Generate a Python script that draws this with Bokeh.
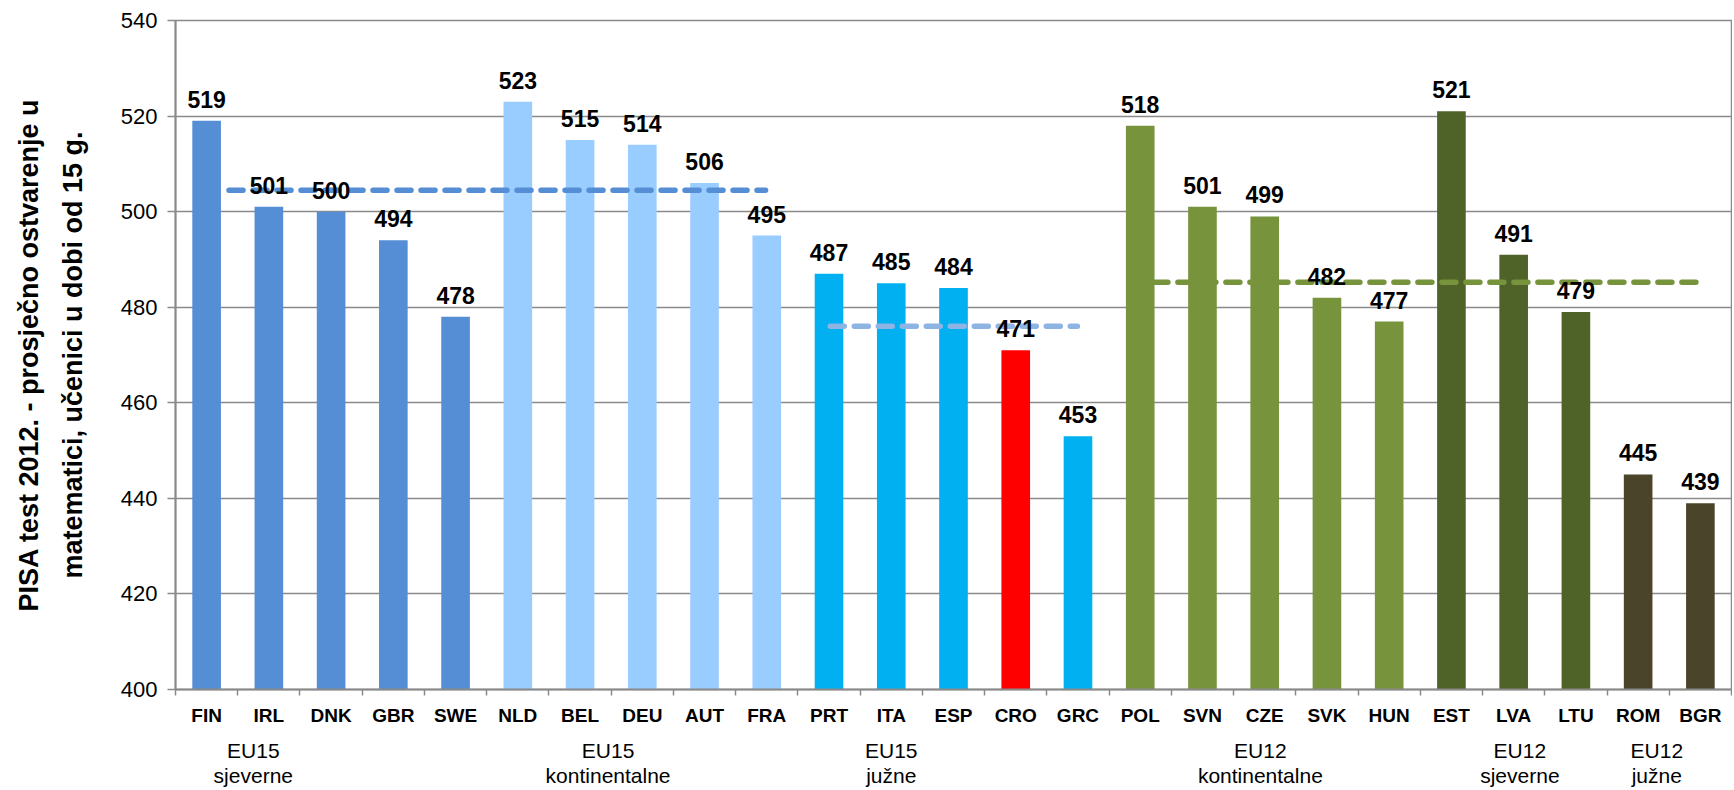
from bokeh.plotting import figure
from bokeh.models import Range1d, FixedTicker, ColumnDataSource, LinearAxis
from bokeh.core.properties import value
from bokeh.embed import file_html
from bokeh.resources import INLINE
import numpy as np

# ---- data ----
countries = ["FIN", "IRL", "DNK", "GBR", "SWE", "NLD", "BEL", "DEU", "AUT", "FRA",
             "PRT", "ITA", "ESP", "CRO", "GRC", "POL", "SVN", "CZE", "SVK", "HUN",
             "EST", "LVA", "LTU", "ROM", "BGR"]
scores = [519, 501, 500, 494, 478, 523, 515, 514, 506, 495,
          487, 485, 484, 471, 453, 518, 501, 499, 482, 477,
          521, 491, 479, 445, 439]
bar_colors = (["#558ED5"] * 5 + ["#99CCFF"] * 5 +
              ["#00B0F0"] * 3 + ["#FF0000"] + ["#00B0F0"] +
              ["#77933C"] * 5 + ["#4F6228"] * 3 + ["#4A452A"] * 2)
group_labels = ["EU15\nsjeverne", "EU15\nkontinentalne", "EU15\njužne",
                "EU12\nkontinentalne", "EU12\nsjeverne", "EU12\njužne"]
group_label_x = [1.25, 6.95, 11.5, 17.43, 21.6, 23.8]
avg_values = [504.5, 476.0, 485.2]
avg_x0 = [0.86, 10.52, 15.72]
avg_x1 = [9.48, 14.49, 24.53]
avg_colors = ["#558ED5", "#8EB4E3", "#77933C"]
y_ticks = [400, 420, 440, 460, 480, 500, 520, 540]
y_title = "PISA test 2012. - prosječno ostvarenje u\nmatematici, učenici u dobi od 15 g."

FONT = "Liberation Sans"
GRAY = "#8A8A8A"

n = len(countries)
centers = (np.arange(n) + 0.5).tolist()
boundaries = list(range(n + 1))

p = figure(width=1732, height=789, output_backend="svg", toolbar_location=None,
           x_range=Range1d(0, n), y_range=Range1d(400, 540),
           min_border_left=175, min_border_right=1, min_border_top=20,
           min_border_bottom=95)
p.background_fill_color = "white"
p.border_fill_color = "white"
p.outline_line_color = GRAY
p.outline_line_width = 1.5

# grid
p.xgrid.visible = False
p.ygrid.ticker = FixedTicker(ticks=y_ticks)
p.ygrid.grid_line_color = GRAY
p.ygrid.grid_line_width = 1.5

# y axis
p.yaxis.ticker = FixedTicker(ticks=y_ticks)
p.yaxis.axis_line_color = GRAY
p.yaxis.axis_line_width = 2
p.yaxis.major_tick_line_color = GRAY
p.yaxis.major_tick_line_width = 1.5
p.yaxis.major_tick_out = 8
p.yaxis.major_tick_in = 0
p.yaxis.minor_tick_line_color = None
p.yaxis.major_label_text_font = FONT
p.yaxis.major_label_text_font_size = "22px"
p.yaxis.major_label_text_color = "black"
p.yaxis.major_label_standoff = 10
p.yaxis.axis_label = y_title
p.yaxis.axis_label_text_font = FONT
p.yaxis.axis_label_text_font_size = "27px"
p.yaxis.axis_label_text_font_style = "bold"
p.yaxis.axis_label_text_color = "black"
p.yaxis.axis_label_text_line_height = 1.45
p.yaxis.axis_label_standoff = 30

# x axis (country codes)
p.xaxis.ticker = FixedTicker(ticks=centers, minor_ticks=boundaries)
p.xaxis.major_label_overrides = {c: name for c, name in zip(centers, countries)}
p.xaxis.axis_line_color = GRAY
p.xaxis.axis_line_width = 2
p.xaxis.major_tick_line_color = None
p.xaxis.major_tick_out = 0
p.xaxis.major_tick_in = 0
p.xaxis.minor_tick_line_color = GRAY
p.xaxis.minor_tick_line_width = 1.5
p.xaxis.minor_tick_out = 6
p.xaxis.minor_tick_in = 0
p.xaxis.major_label_text_font = FONT
p.xaxis.major_label_text_font_size = "19px"
p.xaxis.major_label_text_font_style = "bold"
p.xaxis.major_label_text_color = "black"
p.xaxis.major_label_standoff = 9

# second axis below: group labels
gaxis = LinearAxis(ticker=FixedTicker(ticks=group_label_x),
                   major_label_overrides={gx: t for gx, t in zip(group_label_x, group_labels)})
gaxis.axis_line_color = None
gaxis.major_tick_line_color = None
gaxis.minor_tick_line_color = None
gaxis.major_tick_out = 0
gaxis.major_tick_in = 0
gaxis.major_label_text_font = FONT
gaxis.major_label_text_font_size = "21px"
gaxis.major_label_text_color = "black"
gaxis.major_label_text_line_height = 1.1
gaxis.major_label_standoff = 10
p.add_layout(gaxis, "below")

# bars
src = ColumnDataSource(dict(x=centers, top=scores, color=bar_colors,
                            label=[str(v) for v in scores]))
p.vbar(x="x", top="top", bottom=400, width=0.46, color="color", line_color=None,
       source=src)

# average dashed lines
for v, x0, x1, c in zip(avg_values, avg_x0, avg_x1, avg_colors):
    p.line(x=[x0, x1], y=[v, v], line_color=c, line_width=5.5,
           line_dash="14 10", line_cap="round")

# value labels
p.text(x="x", y="top", text="label", source=src, text_align="center",
       text_baseline="bottom", y_offset=-13, text_font=value(FONT),
       text_font_size="23px", text_font_style="bold", text_color="black")

open("out.html", "w").write(file_html(p, INLINE))
